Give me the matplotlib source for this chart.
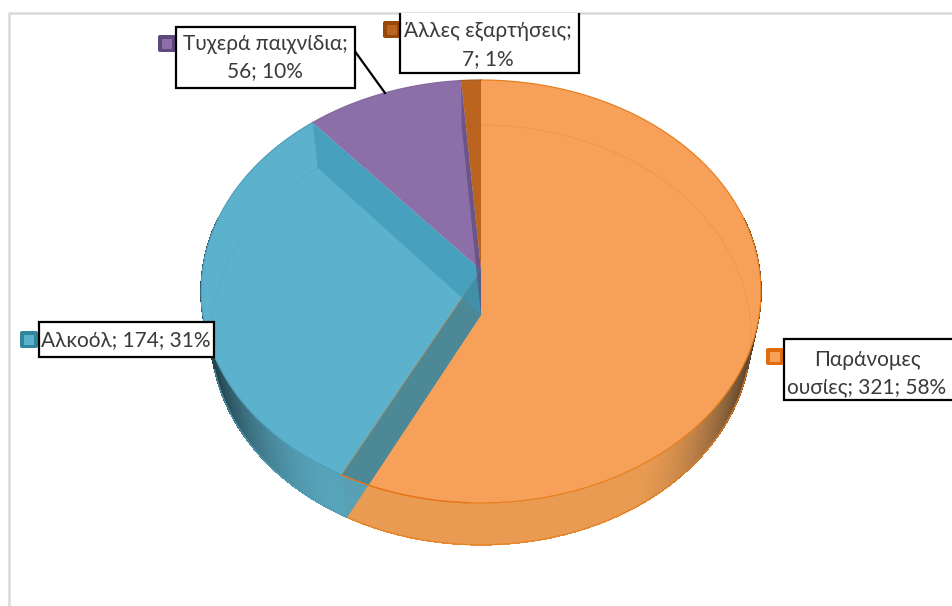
#!/usr/bin/env python3
import numpy as np
import matplotlib
matplotlib.use("Agg")
import matplotlib.pyplot as plt
from matplotlib.collections import PolyCollection
from matplotlib.colors import to_rgb
from matplotlib.patches import FancyBboxPatch, Polygon, Rectangle

plt.rcParams["font.family"] = ["Lato", "Noto Sans", "DejaVu Sans"]

# clockwise from 12 o'clock
categories = ["Παράνομες ουσίες", "Αλκοόλ", "Τυχερά παιχνίδια", "Άλλες εξαρτήσεις"]
values = [321, 174, 56, 7]
percents = [58, 31, 10, 1]
label_lines = [
    ["Παράνομες", "ουσίες; {v}; {p}%"],
    ["Αλκοόλ; {v}; {p}%"],
    ["Τυχερά παιχνίδια;", "{v}; {p}%"],
    ["Άλλες εξαρτήσεις;", "{v}; {p}%"],
]

top_colors = ["#F6A05A", "#5CB2CC", "#8C6FA8", "#BA6420"]
wall_colors = ["#E99B52", "#57A3BA", "#7A6096", "#A55A1E"]
dark_colors = ["#3F3428", "#1C343D", "#3A2E4A", "#4A2A10"]
key_colors = ["#E36C0A", "#31859C", "#5F497A", "#984807"]
rim_colors = ["#E8801F", "#4F9FB8", "#8468A0", "#A55A1E"]


def project(theta, level):
    """Tilted disc with some perspective: near side looks larger."""
    if level == 0:
        y0, a, k, b = 270.0, 209.3, 0.1017, 278.5
    else:
        y0, a, k, b = 315.0, 208.0, 0.095, 268.8
    u, v = np.sin(theta), -np.cos(theta)
    w = 1 - k * v
    return 481 + b * u / w, y0 + a * v / w


def rim(t0, t1, level, n=200):
    th = np.linspace(t0, t1, n)
    x, y = project(th, level)
    return np.column_stack([x, y])


def blend(c1, c2, t):
    c1, c2 = np.array(to_rgb(c1)), np.array(to_rgb(c2))
    return c1 * (1 - t) + c2 * t


fig = plt.figure(figsize=(9.52, 6.06), dpi=100)
ax = fig.add_axes([0, 0, 1, 1])
ax.set_xlim(0, 952)
ax.set_ylim(606, 0)
ax.axis("off")

# chart area border, only top and left fall inside the crop
ax.plot([9, 9, 952], [606, 12.5, 12.5], color="#D9D9D9", lw=1.8, zorder=1)

edges = np.concatenate([[0], np.cumsum(values)]) / np.sum(values) * 2 * np.pi
apex_top = np.array([481.0, 270.0])
apex_bot = np.array([481.0, 315.0])

# outer walls, shaded towards the silhouette ends
for i in range(len(values)):
    th = np.linspace(edges[i], edges[i + 1], 240)
    quads, cols = [], []
    for a, b in zip(th[:-1], th[1:]):
        if np.cos((a + b) / 2) > 0.25:
            continue
        p1, p2 = project(a, 0), project(b, 0)
        p3, p4 = project(b, 1), project(a, 1)
        quads.append([p1, p2, p3, p4])
        t = np.clip((abs(np.sin((a + b) / 2)) - 0.5) / 0.47, 0, 1) ** 1.7
        cols.append(blend(wall_colors[i], dark_colors[i], t * 0.97))
    if quads:
        # no antialiasing here, it leaves seams between the quads
        ax.add_collection(PolyCollection(quads, facecolors=cols, edgecolors=cols, linewidths=0.5,
                                         antialiaseds=False, zorder=2))
    pts = rim(edges[i], edges[i + 1], 1)
    front = np.cos(np.linspace(edges[i], edges[i + 1], 200)) < -0.25
    ax.plot(pts[front, 0], pts[front, 1], color=rim_colors[i], lw=0.9, alpha=0.8, zorder=2.5)

# top faces
for i in range(len(values)):
    poly = np.vstack([apex_top, rim(edges[i], edges[i + 1], 0)])
    ax.add_patch(Polygon(poly, closed=True, facecolor=top_colors[i], edgecolor="none", zorder=3))
    pts = rim(edges[i], edges[i + 1], 0)
    ax.plot(pts[:, 0], pts[:, 1], color=rim_colors[i], lw=0.9, zorder=3.2)

# bottom rim seen through the faces
for i in range(len(values)):
    pts = rim(edges[i], edges[i + 1], 1)
    ax.plot(pts[:, 0], pts[:, 1], color=rim_colors[i], lw=0.8, alpha=0.28, zorder=3.3)

disc = rim(0, 2 * np.pi, 0, 400)


def radial_wall(theta):
    tx, ty = project(theta, 0)
    bx, by = project(theta, 1)
    return [apex_top, (tx, ty), (bx, by), apex_bot]


# cut wall between orange and blue
wall = radial_wall(edges[1])
ax.add_patch(Polygon(wall, closed=True, facecolor="#5AA0B4", edgecolor="none", zorder=4))
clip = Polygon(disc, closed=True, transform=ax.transData)
inner = Polygon(wall, closed=True, facecolor="#4C8896", edgecolor="none", zorder=4.1)
ax.add_patch(inner)
inner.set_clip_path(clip)
tx, ty = project(edges[1], 0)
ax.plot([apex_top[0], tx], [apex_top[1], ty], color="#E8761A", lw=0.7, alpha=0.45, zorder=4.3)
arc = rim(edges[0], edges[1], 0)
ax.plot(arc[-25:, 0], arc[-25:, 1], color="#E8761A", lw=1.0, zorder=4.4)

# back cut walls, translucent
ax.add_patch(Polygon(radial_wall(edges[2]), closed=True, facecolor="#3A95B5", alpha=0.6, edgecolor="none", zorder=4.5))
ax.add_patch(Polygon(radial_wall(edges[3]), closed=True, facecolor="#5F497A", alpha=0.7, edgecolor="none", zorder=4.5))

# labels
boxes = [(784, 339, 175, 61), (39, 322, 175, 35), (176, 27, 179, 61), (400, 5, 179, 68)]
text_centers = [(867, 373.5), (126, 340), (265, 57.5), (488, 45)]
keys = [(765, 347), (19, 330), (157, 34), (382, 20)]
line_gap = 28

# leader line for the gambling label
ax.plot([354, 385], [50, 93], color="black", lw=1.6, zorder=5)

for i in range(len(values)):
    kx, ky = keys[i]
    ax.add_patch(FancyBboxPatch((kx + 1, ky + 1), 18, 17, boxstyle="round,pad=0,rounding_size=2",
                                facecolor=key_colors[i], edgecolor="none", zorder=6))
    ax.add_patch(Rectangle((kx + 5, ky + 5), 10, 10, facecolor=top_colors[i], edgecolor="none", zorder=6.1))

    bx, by, bw, bh = boxes[i]
    box = Rectangle((bx, by), bw, bh, facecolor="white", edgecolor="black", lw=1.6, zorder=7)
    ax.add_patch(box)
    if i == 3:
        box.set_clip_path(Rectangle((0, 13), 952, 593, transform=ax.transData))

    lines = [s.format(v=values[i], p=percents[i]) for s in label_lines[i]]
    cx, cy = text_centers[i]
    for j, line in enumerate(lines):
        yy = cy + (j - (len(lines) - 1) / 2) * line_gap
        ax.text(cx, yy, line, ha="center", va="center", fontsize=15, color="#3A3A3A", zorder=8)

fig.savefig("out.png", dpi=100)
